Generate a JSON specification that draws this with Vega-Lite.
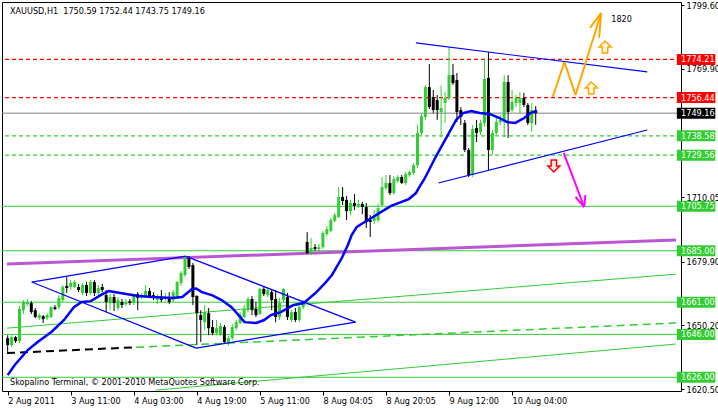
{
  "$schema": "https://vega.github.io/schema/vega-lite/v6.json",
  "width": 679,
  "height": 389,
  "autosize": {"type": "none"},
  "padding": {"left": 2, "top": 2, "right": 37, "bottom": 17},
  "background": "white",
  "config": {
    "view": {"stroke": "black", "strokeWidth": 1},
    "font": "DejaVu Sans Condensed, DejaVu Sans",
    "axis": {"grid": false, "domain": false, "tickColor": "black", "labelColor": "black", "labelFont": "DejaVu Sans Condensed, DejaVu Sans", "labelFontSize": 9, "labelOverlap": false, "labelFlush": false, "labelBound": false},
    "text": {"font": "DejaVu Sans Condensed, DejaVu Sans", "fontSize": 9}
  },
  "datasets": {
    "candles": [
      {"i":0,"o":1644.3,"h":1645.6,"l":1637.8,"c":1641.0},
      {"i":1,"o":1641.0,"h":1645.6,"l":1640.1,"c":1644.7},
      {"i":2,"o":1644.7,"h":1645.2,"l":1642.0,"c":1642.9},
      {"i":3,"o":1642.9,"h":1659.2,"l":1642.0,"c":1657.8},
      {"i":4,"o":1657.3,"h":1662.0,"l":1655.5,"c":1661.1},
      {"i":5,"o":1660.1,"h":1662.5,"l":1659.2,"c":1661.1},
      {"i":6,"o":1660.6,"h":1661.5,"l":1655.5,"c":1656.4},
      {"i":7,"o":1657.3,"h":1658.3,"l":1653.6,"c":1654.1},
      {"i":8,"o":1653.6,"h":1655.9,"l":1652.7,"c":1655.0},
      {"i":9,"o":1654.5,"h":1655.0,"l":1651.3,"c":1653.1},
      {"i":10,"o":1653.6,"h":1655.9,"l":1652.7,"c":1655.0},
      {"i":11,"o":1654.1,"h":1659.2,"l":1653.6,"c":1658.7},
      {"i":12,"o":1658.7,"h":1659.7,"l":1657.3,"c":1657.8},
      {"i":13,"o":1658.7,"h":1664.3,"l":1657.8,"c":1663.0},
      {"i":14,"o":1662.0,"h":1669.0,"l":1661.1,"c":1668.1},
      {"i":15,"o":1668.6,"h":1672.7,"l":1665.3,"c":1667.6},
      {"i":16,"o":1668.1,"h":1671.3,"l":1666.7,"c":1670.0},
      {"i":17,"o":1668.1,"h":1671.3,"l":1667.6,"c":1670.4},
      {"i":18,"o":1668.1,"h":1669.5,"l":1665.7,"c":1666.7},
      {"i":19,"o":1665.3,"h":1670.0,"l":1664.3,"c":1669.0},
      {"i":20,"o":1669.0,"h":1670.4,"l":1663.9,"c":1665.3},
      {"i":21,"o":1665.3,"h":1671.3,"l":1664.3,"c":1670.4},
      {"i":22,"o":1670.4,"h":1671.3,"l":1663.9,"c":1665.3},
      {"i":23,"o":1665.3,"h":1669.0,"l":1664.3,"c":1667.6},
      {"i":24,"o":1668.1,"h":1669.5,"l":1665.7,"c":1666.7},
      {"i":25,"o":1664.3,"h":1666.7,"l":1656.4,"c":1661.1},
      {"i":26,"o":1660.6,"h":1664.8,"l":1657.3,"c":1663.4},
      {"i":27,"o":1663.4,"h":1664.8,"l":1656.9,"c":1660.6},
      {"i":28,"o":1658.3,"h":1663.4,"l":1657.3,"c":1662.0},
      {"i":29,"o":1661.1,"h":1662.5,"l":1658.3,"c":1659.7},
      {"i":30,"o":1660.1,"h":1662.5,"l":1659.2,"c":1661.1},
      {"i":31,"o":1661.5,"h":1662.5,"l":1659.7,"c":1660.6},
      {"i":32,"o":1660.6,"h":1664.8,"l":1659.7,"c":1663.9},
      {"i":33,"o":1664.8,"h":1665.7,"l":1657.3,"c":1663.0},
      {"i":34,"o":1663.4,"h":1665.3,"l":1662.5,"c":1664.3},
      {"i":35,"o":1663.9,"h":1669.0,"l":1663.0,"c":1666.2},
      {"i":36,"o":1666.2,"h":1667.6,"l":1663.0,"c":1663.9},
      {"i":37,"o":1664.3,"h":1665.7,"l":1662.0,"c":1663.0},
      {"i":38,"o":1662.0,"h":1664.8,"l":1660.1,"c":1663.4},
      {"i":39,"o":1663.4,"h":1666.7,"l":1661.1,"c":1662.0},
      {"i":40,"o":1662.5,"h":1665.3,"l":1661.5,"c":1663.4},
      {"i":41,"o":1663.4,"h":1665.7,"l":1660.1,"c":1661.1},
      {"i":42,"o":1662.0,"h":1666.7,"l":1661.1,"c":1665.7},
      {"i":43,"o":1663.4,"h":1670.9,"l":1663.0,"c":1670.4},
      {"i":44,"o":1670.0,"h":1675.5,"l":1668.6,"c":1674.6},
      {"i":45,"o":1673.7,"h":1682.5,"l":1672.7,"c":1681.6},
      {"i":46,"o":1681.6,"h":1682.5,"l":1676.5,"c":1677.4},
      {"i":47,"o":1678.3,"h":1679.3,"l":1659.7,"c":1663.4},
      {"i":48,"o":1663.9,"h":1664.3,"l":1641.0,"c":1655.9},
      {"i":49,"o":1655.0,"h":1657.3,"l":1642.4,"c":1652.7},
      {"i":50,"o":1651.7,"h":1659.7,"l":1648.0,"c":1656.4},
      {"i":51,"o":1655.9,"h":1658.3,"l":1645.6,"c":1648.9},
      {"i":52,"o":1649.4,"h":1652.7,"l":1645.6,"c":1646.6},
      {"i":53,"o":1646.6,"h":1652.7,"l":1645.6,"c":1648.9},
      {"i":54,"o":1646.1,"h":1651.3,"l":1645.2,"c":1649.9},
      {"i":55,"o":1649.4,"h":1650.4,"l":1642.0,"c":1642.4},
      {"i":56,"o":1642.0,"h":1645.6,"l":1640.6,"c":1644.3},
      {"i":57,"o":1644.3,"h":1650.8,"l":1643.4,"c":1649.4},
      {"i":58,"o":1648.9,"h":1652.7,"l":1648.0,"c":1651.7},
      {"i":59,"o":1651.3,"h":1656.4,"l":1650.8,"c":1655.0},
      {"i":60,"o":1654.1,"h":1659.7,"l":1653.6,"c":1657.8},
      {"i":61,"o":1657.3,"h":1663.4,"l":1656.4,"c":1662.5},
      {"i":62,"o":1662.5,"h":1663.9,"l":1655.0,"c":1657.3},
      {"i":63,"o":1657.8,"h":1661.1,"l":1654.1,"c":1655.0},
      {"i":64,"o":1655.5,"h":1667.6,"l":1655.0,"c":1667.2},
      {"i":65,"o":1667.2,"h":1668.1,"l":1663.9,"c":1664.8},
      {"i":66,"o":1664.3,"h":1667.6,"l":1663.4,"c":1666.7},
      {"i":67,"o":1665.7,"h":1666.7,"l":1657.3,"c":1662.0},
      {"i":68,"o":1662.5,"h":1666.7,"l":1651.7,"c":1654.1},
      {"i":69,"o":1654.1,"h":1663.0,"l":1652.7,"c":1660.6},
      {"i":70,"o":1662.0,"h":1667.6,"l":1661.1,"c":1667.2},
      {"i":71,"o":1663.4,"h":1665.3,"l":1652.7,"c":1654.1},
      {"i":72,"o":1652.7,"h":1657.3,"l":1651.7,"c":1656.4},
      {"i":73,"o":1656.4,"h":1658.3,"l":1651.7,"c":1652.7},
      {"i":74,"o":1652.7,"h":1659.7,"l":1651.7,"c":1658.7},
      {"i":75,"o":1658.7,"h":1662.0,"l":1657.8,"c":1660.6},
      {"i":76,"o":1689.1,"h":1693.7,"l":1683.5,"c":1683.9},
      {"i":77,"o":1683.9,"h":1690.9,"l":1683.0,"c":1686.3},
      {"i":78,"o":1686.7,"h":1688.1,"l":1684.9,"c":1685.8},
      {"i":79,"o":1685.8,"h":1688.1,"l":1684.4,"c":1686.7},
      {"i":80,"o":1686.7,"h":1694.2,"l":1685.8,"c":1693.3},
      {"i":81,"o":1692.8,"h":1696.5,"l":1691.9,"c":1695.1},
      {"i":82,"o":1694.2,"h":1700.3,"l":1693.7,"c":1699.3},
      {"i":83,"o":1698.9,"h":1702.6,"l":1698.4,"c":1701.6},
      {"i":84,"o":1700.7,"h":1714.7,"l":1700.3,"c":1710.1},
      {"i":85,"o":1710.1,"h":1714.7,"l":1706.3,"c":1708.2},
      {"i":86,"o":1708.7,"h":1710.5,"l":1699.3,"c":1703.5},
      {"i":87,"o":1703.5,"h":1708.7,"l":1701.6,"c":1707.3},
      {"i":88,"o":1707.3,"h":1711.5,"l":1704.0,"c":1705.9},
      {"i":89,"o":1705.9,"h":1708.7,"l":1704.9,"c":1706.8},
      {"i":90,"o":1706.8,"h":1707.7,"l":1702.1,"c":1705.4},
      {"i":91,"o":1705.4,"h":1707.3,"l":1695.6,"c":1698.4},
      {"i":92,"o":1699.3,"h":1701.6,"l":1691.4,"c":1698.4},
      {"i":93,"o":1698.9,"h":1704.0,"l":1697.5,"c":1700.7},
      {"i":94,"o":1699.3,"h":1706.8,"l":1698.4,"c":1704.9},
      {"i":95,"o":1706.3,"h":1719.4,"l":1705.9,"c":1714.7},
      {"i":96,"o":1714.2,"h":1720.3,"l":1713.3,"c":1716.6},
      {"i":97,"o":1716.6,"h":1720.3,"l":1711.0,"c":1711.9},
      {"i":98,"o":1711.9,"h":1719.8,"l":1711.0,"c":1718.4},
      {"i":99,"o":1717.5,"h":1720.3,"l":1716.6,"c":1719.4},
      {"i":100,"o":1719.4,"h":1720.3,"l":1716.1,"c":1716.6},
      {"i":101,"o":1716.6,"h":1721.7,"l":1715.6,"c":1720.8},
      {"i":102,"o":1720.3,"h":1722.6,"l":1719.4,"c":1721.7},
      {"i":103,"o":1721.2,"h":1725.9,"l":1720.3,"c":1724.9},
      {"i":104,"o":1724.9,"h":1743.6,"l":1723.6,"c":1739.9},
      {"i":105,"o":1739.9,"h":1748.8,"l":1739.0,"c":1747.8},
      {"i":106,"o":1747.4,"h":1762.3,"l":1746.0,"c":1761.3},
      {"i":107,"o":1761.3,"h":1772.1,"l":1751.1,"c":1752.0},
      {"i":108,"o":1756.7,"h":1760.0,"l":1749.2,"c":1750.6},
      {"i":109,"o":1755.3,"h":1757.6,"l":1746.0,"c":1750.6},
      {"i":110,"o":1749.7,"h":1762.0,"l":1738.0,"c":1751.6},
      {"i":111,"o":1753.9,"h":1759.0,"l":1744.6,"c":1756.2},
      {"i":112,"o":1756.2,"h":1780.0,"l":1755.3,"c":1766.9},
      {"i":113,"o":1766.9,"h":1772.1,"l":1762.3,"c":1763.2},
      {"i":114,"o":1764.6,"h":1767.9,"l":1745.0,"c":1749.7},
      {"i":115,"o":1750.6,"h":1752.0,"l":1743.6,"c":1747.4},
      {"i":116,"o":1744.6,"h":1746.0,"l":1731.0,"c":1732.0},
      {"i":117,"o":1732.0,"h":1732.9,"l":1719.4,"c":1720.3},
      {"i":118,"o":1720.3,"h":1743.6,"l":1719.4,"c":1741.8},
      {"i":119,"o":1742.2,"h":1746.0,"l":1735.7,"c":1739.9},
      {"i":120,"o":1740.4,"h":1746.0,"l":1739.0,"c":1744.6},
      {"i":121,"o":1744.6,"h":1774.9,"l":1742.7,"c":1765.1},
      {"i":122,"o":1765.6,"h":1777.7,"l":1722.6,"c":1732.0},
      {"i":123,"o":1732.0,"h":1741.3,"l":1729.6,"c":1739.9},
      {"i":124,"o":1739.9,"h":1746.9,"l":1739.0,"c":1745.0},
      {"i":125,"o":1745.0,"h":1748.3,"l":1743.6,"c":1746.0},
      {"i":126,"o":1745.0,"h":1766.9,"l":1738.0,"c":1763.7},
      {"i":127,"o":1763.7,"h":1766.9,"l":1737.6,"c":1749.7},
      {"i":128,"o":1750.6,"h":1760.0,"l":1749.7,"c":1754.4},
      {"i":129,"o":1753.9,"h":1757.6,"l":1752.0,"c":1756.2},
      {"i":130,"o":1753.9,"h":1759.0,"l":1749.2,"c":1756.2},
      {"i":131,"o":1756.2,"h":1758.6,"l":1752.0,"c":1753.0},
      {"i":132,"o":1753.0,"h":1753.9,"l":1743.6,"c":1744.6},
      {"i":133,"o":1744.6,"h":1753.9,"l":1740.4,"c":1750.6},
      {"i":134,"o":1750.59,"h":1752.44,"l":1743.75,"c":1749.16}
    ],
    "ma": [
      {"i":0,"v":1627.0},{"i":1.8,"v":1631.7},{"i":5.1,"v":1638.7},{"i":7.6,"v":1642.4},{"i":11.1,"v":1647.1},{"i":14.3,"v":1652.7},{"i":16.8,"v":1658.7},{"i":18.8,"v":1661.1},{"i":21.1,"v":1661.5},{"i":23.6,"v":1664.3},{"i":25.6,"v":1666.2},{"i":28.6,"v":1665.3},{"i":33.1,"v":1663.9},{"i":36.8,"v":1663.4},{"i":41.8,"v":1663.0},{"i":44.3,"v":1663.4},{"i":46.8,"v":1667.2},{"i":47.8,"v":1667.4},{"i":49.3,"v":1665.7},{"i":51.8,"v":1664.3},{"i":54.3,"v":1662.0},{"i":56.8,"v":1658.7},{"i":58.6,"v":1655.0},{"i":60.1,"v":1651.7},{"i":63.1,"v":1651.3},{"i":65.1,"v":1652.7},{"i":66.8,"v":1655.0},{"i":69.3,"v":1656.4},{"i":72.6,"v":1659.7},{"i":75.1,"v":1660.6},{"i":78.1,"v":1665.3},{"i":80.6,"v":1670.0},{"i":82.3,"v":1673.7},{"i":84.8,"v":1681.6},{"i":86.3,"v":1687.6},{"i":87.3,"v":1692.3},{"i":88.6,"v":1696.1},{"i":89.8,"v":1697.5},{"i":92.3,"v":1700.3},{"i":94.8,"v":1703.1},{"i":97.3,"v":1705.9},{"i":99.3,"v":1707.3},{"i":101.8,"v":1709.1},{"i":103.6,"v":1711.9},{"i":104.3,"v":1714.2},{"i":105.6,"v":1718.0},{"i":106.8,"v":1722.2},{"i":108.6,"v":1728.7},{"i":111.3,"v":1737.6},{"i":113.8,"v":1746.0},{"i":115.6,"v":1749.2},{"i":117.6,"v":1750.2},{"i":119.8,"v":1749.2},{"i":122.3,"v":1748.8},{"i":124.8,"v":1746.9},{"i":126.8,"v":1745.0},{"i":128.8,"v":1744.6},{"i":131.1,"v":1746.9},{"i":132.6,"v":1749.2},{"i":134.3,"v":1750.2}
    ],
    "levels": [
      {"p":1774.21,"k":"rd"},{"p":1756.44,"k":"rd"},{"p":1749.16,"k":"gray"},{"p":1738.58,"k":"gd"},{"p":1729.56,"k":"gd"},{"p":1705.75,"k":"gs"},{"p":1685.0,"k":"gs"},{"p":1661.0,"k":"gs"},{"p":1646.0,"k":"gs"},{"p":1626.0,"k":"gs"}
    ],
    "tags": [
      {"p":1774.21,"bg":"r"},{"p":1756.44,"bg":"r"},{"p":1749.16,"bg":"k"},{"p":1738.58,"bg":"g"},{"p":1729.56,"bg":"g"},{"p":1705.75,"bg":"g"},{"p":1685.0,"bg":"g"},{"p":1661.0,"bg":"g"},{"p":1646.0,"bg":"g"},{"p":1626.0,"bg":"g"}
    ],
    "segs": [
      {"a":-0.17,"p":1648.9,"b":169.6,"q":1674.1,"s":"g"},
      {"a":37.6,"p":1620.0,"b":169.6,"q":1641.5,"s":"g"},
      {"a":32.6,"p":1640.0,"b":169.6,"q":1651.3,"s":"gd"},
      {"a":-0.17,"p":1637.3,"b":32.6,"q":1640.0,"s":"kd"},
      {"a":-0.17,"p":1678.8,"b":169.6,"q":1690.0,"s":"pu"},
      {"a":6.1,"p":1670.4,"b":45.1,"q":1682.5,"s":"bl"},
      {"a":45.1,"p":1682.5,"b":88.3,"q":1651.7,"s":"bl"},
      {"a":6.1,"p":1670.4,"b":47.8,"q":1639.6,"s":"bl"},
      {"a":47.8,"p":1639.6,"b":88.3,"q":1651.7,"s":"bl"},
      {"a":103.6,"p":1781.9,"b":162.3,"q":1768.4,"s":"bl"},
      {"a":109.3,"p":1716.6,"b":162.3,"q":1741.3,"s":"bl"},
      {"a":138.3,"p":1756.7,"b":141.3,"q":1773.0,"s":"or"},
      {"a":141.3,"p":1773.0,"b":144.1,"q":1757.6,"s":"or"},
      {"a":144.1,"p":1757.6,"b":150.6,"q":1795.9,"s":"or"},
      {"a":147.8,"p":1788.9,"b":150.6,"q":1795.9,"s":"or"},
      {"a":150.1,"p":1784.2,"b":150.6,"q":1795.9,"s":"or"},
      {"a":141.1,"p":1730.6,"b":146.3,"q":1705.4,"s":"mg"},
      {"a":144.1,"p":1710.1,"b":146.3,"q":1705.4,"s":"mg"},
      {"a":146.6,"p":1711.0,"b":146.3,"q":1705.4,"s":"mg"}
    ],
    "icons": [
      {"i":151.6,"p":1780.0,"k":"up"},{"i":148.1,"p":1760.9,"k":"up"},{"i":138.6,"p":1724.5,"k":"down"}
    ]
  },
  "layer": [
    {
      "data": {"name": "levels"},
      "transform": [{"filter": "datum.k == 'rd'"}],
      "mark": {"type": "rule", "color": "#ff0000", "stroke": "#ff0000", "strokeDash": [4, 3], "strokeWidth": 1.3},
      "encoding": {"y": {"field": "p", "type": "quantitative", "title": null, "scale": {"domain": [1619.6, 1801.0], "nice": false, "zero": false}}}
    },
    {
      "data": {"name": "levels"},
      "transform": [{"filter": "datum.k == 'gd'"}],
      "mark": {"type": "rule", "color": "#32cd32", "stroke": "#32cd32", "strokeDash": [4, 3], "strokeWidth": 1.2},
      "encoding": {"y": {"field": "p", "type": "quantitative", "title": null}}
    },
    {
      "data": {"name": "levels"},
      "transform": [{"filter": "datum.k == 'gs'"}],
      "mark": {"type": "rule", "color": "#32cd32", "strokeWidth": 1},
      "encoding": {"y": {"field": "p", "type": "quantitative", "title": null}}
    },
    {
      "data": {"name": "levels"},
      "transform": [{"filter": "datum.k == 'gray'"}],
      "mark": {"type": "rule", "color": "#808080", "strokeWidth": 1},
      "encoding": {"y": {"field": "p", "type": "quantitative", "title": null}}
    },
    {
      "data": {"name": "segs"},
      "transform": [{"filter": "datum.s == 'g'"}],
      "mark": {"type": "rule", "color": "#32cd32", "strokeWidth": 1},
      "encoding": {"x": {"field": "a", "type": "quantitative", "title": null}, "x2": {"field": "b"}, "y": {"field": "p", "type": "quantitative", "title": null}, "y2": {"field": "q"}}
    },
    {
      "data": {"name": "segs"},
      "transform": [{"filter": "datum.s == 'gd'"}],
      "mark": {"type": "rule", "color": "#32cd32", "strokeWidth": 1.5, "strokeDash": [8, 5]},
      "encoding": {"x": {"field": "a", "type": "quantitative", "title": null}, "x2": {"field": "b"}, "y": {"field": "p", "type": "quantitative", "title": null}, "y2": {"field": "q"}}
    },
    {
      "data": {"name": "segs"},
      "transform": [{"filter": "datum.s == 'kd'"}],
      "mark": {"type": "rule", "color": "#000000", "strokeWidth": 2, "strokeDash": [8, 5]},
      "encoding": {"x": {"field": "a", "type": "quantitative", "title": null}, "x2": {"field": "b"}, "y": {"field": "p", "type": "quantitative", "title": null}, "y2": {"field": "q"}}
    },
    {
      "data": {"name": "segs"},
      "transform": [{"filter": "datum.s == 'pu'"}],
      "mark": {"type": "rule", "color": "#ba55d3", "strokeWidth": 3},
      "encoding": {"x": {"field": "a", "type": "quantitative", "title": null}, "x2": {"field": "b"}, "y": {"field": "p", "type": "quantitative", "title": null}, "y2": {"field": "q"}}
    },
    {
      "data": {"name": "candles"},
      "mark": {"type": "rule", "strokeWidth": 1},
      "encoding": {
        "x": {"field": "i", "type": "quantitative", "title": null,
          "scale": {"domain": [-0.17, 169.6], "nice": false, "zero": false},
          "axis": {"values": [0, 16, 32, 48, 64, 80, 96, 112, 128], "labelExpr": "['2 Aug 2011','3 Aug 11:00','4 Aug 03:00','4 Aug 19:00','5 Aug 11:00','8 Aug 04:05','8 Aug 20:05','9 Aug 12:00','10 Aug 04:00'][round(datum.value / 16)]", "labelAlign": "left", "labelBaseline": "top", "tickSize": 4, "labelPadding": 1, "labelDx": 0}},
        "y": {"field": "l", "type": "quantitative", "title": null,
          "scale": {"domain": [1619.6, 1801.0], "nice": false, "zero": false},
          "axis": {"orient": "right", "values": [1799.6, 1784.75, 1769.9, 1724.9, 1710.05, 1695.2, 1679.9, 1665.05, 1650.2, 1635.35, 1620.5], "format": ".2f", "tickSize": 3, "labelPadding": 2, "labelAlign": "left", "labelBaseline": "middle"}},
        "y2": {"field": "h"},
        "color": {"condition": {"test": "datum.c >= datum.o", "value": "#32cd32"}, "value": "#000000"}
      }
    },
    {
      "data": {"name": "candles"},
      "mark": {"type": "bar", "width": 3},
      "encoding": {
        "x": {"field": "i", "type": "quantitative", "title": null},
        "y": {"field": "o", "type": "quantitative", "title": null},
        "y2": {"field": "c"},
        "color": {"condition": {"test": "datum.c >= datum.o", "value": "#32cd32"}, "value": "#000000"}
      }
    },
    {
      "data": {"name": "ma"},
      "mark": {"type": "line", "color": "#0000ff", "strokeWidth": 2.5},
      "encoding": {"x": {"field": "i", "type": "quantitative", "title": null}, "y": {"field": "v", "type": "quantitative", "title": null}}
    },
    {
      "data": {"name": "segs"},
      "transform": [{"filter": "datum.s == 'bl'"}],
      "mark": {"type": "rule", "color": "#0000ff", "strokeWidth": 1.2},
      "encoding": {"x": {"field": "a", "type": "quantitative", "title": null}, "x2": {"field": "b"}, "y": {"field": "p", "type": "quantitative", "title": null}, "y2": {"field": "q"}}
    },
    {
      "data": {"name": "segs"},
      "transform": [{"filter": "datum.s == 'or'"}],
      "mark": {"type": "rule", "color": "#ffa500", "strokeWidth": 2},
      "encoding": {"x": {"field": "a", "type": "quantitative", "title": null}, "x2": {"field": "b"}, "y": {"field": "p", "type": "quantitative", "title": null}, "y2": {"field": "q"}}
    },
    {
      "data": {"name": "segs"},
      "transform": [{"filter": "datum.s == 'mg'"}],
      "mark": {"type": "rule", "color": "#ff00ff", "strokeWidth": 2},
      "encoding": {"x": {"field": "a", "type": "quantitative", "title": null}, "x2": {"field": "b"}, "y": {"field": "p", "type": "quantitative", "title": null}, "y2": {"field": "q"}}
    },
    {
      "data": {"name": "icons"},
      "transform": [{"filter": "datum.k == 'up'"}],
      "mark": {"type": "point", "shape": "M-0.45,1L-0.45,0L-1,0L0,-1L1,0L0.45,0L0.45,1Z", "size": 144, "filled": false, "fill": "#fffde0", "stroke": "#ffa500", "strokeWidth": 1.5, "opacity": 1},
      "encoding": {"x": {"field": "i", "type": "quantitative", "title": null}, "y": {"field": "p", "type": "quantitative", "title": null}}
    },
    {
      "data": {"name": "icons"},
      "transform": [{"filter": "datum.k == 'down'"}],
      "mark": {"type": "point", "shape": "M-0.45,-1L-0.45,0L-1,0L0,1L1,0L0.45,0L0.45,-1Z", "size": 144, "filled": false, "fill": "#ffe8e8", "stroke": "#ff0000", "strokeWidth": 1.5, "opacity": 1},
      "encoding": {"x": {"field": "i", "type": "quantitative", "title": null}, "y": {"field": "p", "type": "quantitative", "title": null}}
    },
    {
      "data": {"name": "tags"},
      "mark": {"type": "point", "shape": "M-3.5,-1H3.5V1H-3.5Z", "size": 121, "filled": true, "strokeWidth": 0, "opacity": 1},
      "encoding": {
        "x": {"datum": 174.7},
        "y": {"field": "p", "type": "quantitative", "title": null},
        "fill": {"condition": [{"test": "datum.bg == 'r'", "value": "#ff0000"}, {"test": "datum.bg == 'k'", "value": "#000000"}], "value": "#32cd32"}
      }
    },
    {
      "data": {"name": "tags"},
      "mark": {"type": "text", "align": "left", "baseline": "middle", "color": "#ffffff", "fontSize": 9},
      "encoding": {
        "x": {"datum": 170.9},
        "y": {"field": "p", "type": "quantitative", "title": null},
        "text": {"field": "p", "type": "quantitative", "format": ".2f"}
      }
    },
    {
      "data": {"values": [{"t": "XAUUSD,H1\u00a0 1750.59 1752.44 1743.75 1749.16"}]},
      "mark": {"type": "text", "align": "left", "baseline": "middle", "dx": 3, "color": "#000000", "fontSize": 9},
      "encoding": {"x": {"datum": -0.17}, "y": {"datum": 1796.8}, "text": {"field": "t"}}
    },
    {
      "data": {"values": [{"t": "Skopalino Terminal, © 2001-2010 MetaQuotes Software Corp."}]},
      "mark": {"type": "text", "align": "left", "baseline": "middle", "dx": 3, "color": "#000000", "fontSize": 9},
      "encoding": {"x": {"datum": -0.17}, "y": {"datum": 1623.8}, "text": {"field": "t"}}
    },
    {
      "data": {"values": [{"t": "1820"}]},
      "mark": {"type": "text", "align": "center", "baseline": "middle", "color": "#000000", "fontSize": 9},
      "encoding": {"x": {"datum": 155.8}, "y": {"datum": 1793.1}, "text": {"field": "t"}}
    }
  ]
}
